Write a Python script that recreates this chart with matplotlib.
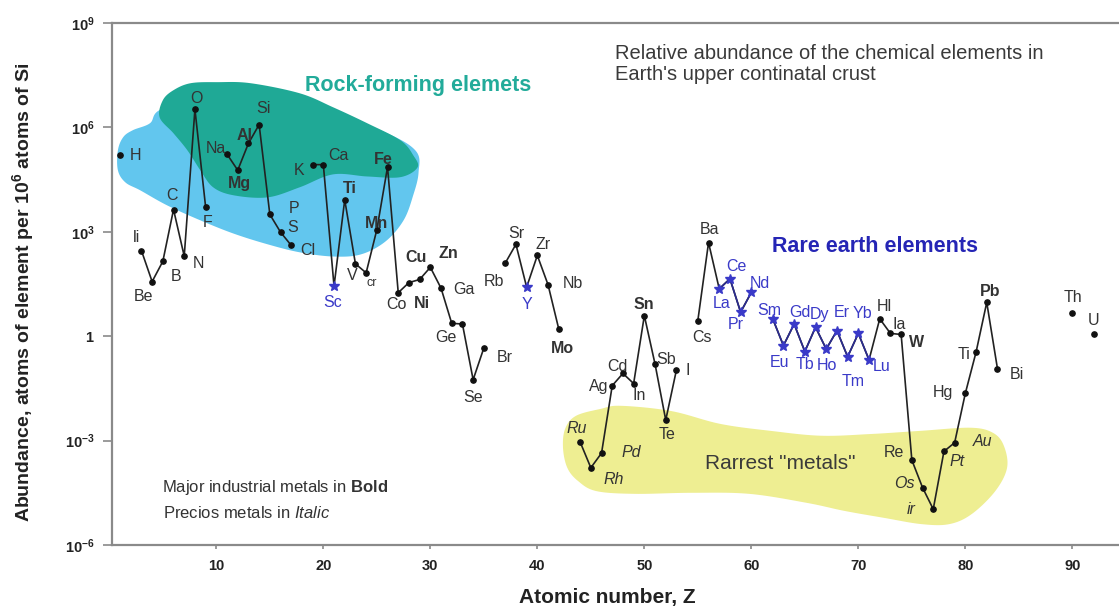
"""Relative abundance of the chemical elements in Earth's upper continental crust.

Log-scale abundance (atoms per 10^6 atoms of Si) against atomic number,
with the rock-forming, rare-earth and rarest-metal groups shaded.
"""
import numpy as np
import matplotlib

matplotlib.use("Agg")
import matplotlib.pyplot as plt
from matplotlib.ticker import FixedLocator, NullLocator

plt.rcParams["font.family"] = ["Liberation Sans", "DejaVu Sans"]
plt.rcParams["mathtext.fontset"] = "custom"
plt.rcParams["mathtext.rm"] = "Liberation Sans"
plt.rcParams["mathtext.bf"] = "Liberation Sans:bold"
plt.rcParams["mathtext.it"] = "Liberation Sans:italic"

# ---------------------------------------------------------------------------
# Data: symbol, Z, log10(atoms per 10^6 atoms of Si)
# ---------------------------------------------------------------------------
symbols = [
    "H", "Li", "Be", "B", "C", "N", "O", "F", "Na", "Mg", "Al", "Si", "P", "S", "Cl",
    "K", "Ca", "Sc", "Ti", "V", "Cr", "Mn", "Fe", "Co", "Ni", "Cu", "Zn", "Ga", "Ge",
    "As", "Se", "Br", "Rb", "Sr", "Y", "Zr", "Nb", "Mo", "Ru", "Rh", "Pd", "Ag", "Cd",
    "In", "Sn", "Sb", "Te", "I", "Cs", "Ba", "La", "Ce", "Pr", "Nd", "Sm", "Eu", "Gd",
    "Tb", "Dy", "Ho", "Er", "Tm", "Yb", "Lu", "Hf", "Ta", "W", "Re", "Os", "Ir", "Pt",
    "Au", "Hg", "Tl", "Pb", "Bi", "Th", "U",
]
atomic_number = [
    1, 3, 4, 5, 6, 7, 8, 9, 11, 12, 13, 14, 15, 16, 17,
    19, 20, 21, 22, 23, 24, 25, 26, 27, 28, 29, 30, 31, 32,
    33, 34, 35, 37, 38, 39, 40, 41, 42, 44, 45, 46, 47, 48,
    49, 50, 51, 52, 53, 55, 56, 57, 58, 59, 60, 62, 63, 64,
    65, 66, 67, 68, 69, 70, 71, 72, 73, 74, 75, 76, 77, 78,
    79, 80, 81, 82, 83, 90, 92,
]
log_abundance = [
    5.20, 2.46, 1.57, 2.15, 3.64, 2.30, 6.52, 3.71, 5.23, 4.77, 5.54, 6.08, 3.50, 2.99, 2.61,
    4.93, 4.93, 1.44, 3.92, 2.08, 1.82, 3.06, 4.86, 1.25, 1.54, 1.63, 1.98, 1.38, 0.37,
    0.35, -1.25, -0.34, 2.10, 2.64, 1.41, 2.32, 1.48, 0.21, -3.04, -3.78, -3.36, -1.42, -1.07,
    -1.36, 0.59, -0.80, -2.41, -0.97, 0.45, 2.69, 1.36, 1.65, 0.69, 1.26, 0.50, -0.27, 0.35,
    -0.44, 0.26, -0.37, 0.16, -0.59, 0.08, -0.68, 0.50, 0.08, 0.05, -3.56, -4.35, -4.97, -3.31,
    -3.06, -1.64, -0.46, 0.97, -0.93, 0.66, 0.07,
]

# Label text as printed on the original (its spellings kept)
label_text = {"Li": "li", "Cr": "cr", "Hf": "Hl", "Ta": "Ia", "Tl": "Ti", "Ir": "ir", "As": ""}
bold_elements = ["Mg", "Al", "Ti", "Mn", "Fe", "Ni", "Cu", "Zn", "Sn", "Mo", "W", "Pb"]
italic_elements = ["Ru", "Rh", "Pd", "Os", "Ir", "Pt", "Au"]
rare_earths = ["Sc", "Y", "La", "Ce", "Pr", "Nd", "Sm", "Eu", "Gd", "Tb", "Dy", "Ho",
               "Er", "Tm", "Yb", "Lu"]
lanthanides = rare_earths[2:]

# Label placement: offset of the label centre from its point, in pixels
label_offsets = {
    "H": (15, 0), "Li": (-5, 13), "Be": (-9, -15), "B": (13, -15), "C": (-2, 14),
    "N": (14, -7), "O": (2, 11), "F": (2, -15), "Na": (-11, 6), "Mg": (2, -13),
    "Al": (-4, 8), "Si": (4, 16), "P": (24, 6), "S": (12, 5), "Cl": (17, -5),
    "K": (-14, -6), "Ca": (15, 9), "Sc": (-1, -16), "Ti": (5, 11), "V": (-3, -12),
    "Cr": (6, -10), "Mn": (0, 6), "Fe": (-4, 8), "Co": (-2, -12), "Ni": (13, -21),
    "Cu": (-4, 22), "Zn": (18, 14), "Ga": (23, -1), "Ge": (-6, -14), "Se": (0, -18),
    "Br": (21, -9), "Rb": (-11, -18), "Sr": (0, 11), "Y": (0, -17), "Zr": (6, 11),
    "Nb": (25, 1), "Mo": (4, -20), "Ru": (-3, 13), "Rh": (23, -12), "Pd": (30, 1),
    "Ag": (-14, -1), "Cd": (-5, 7), "In": (6, -12), "Sn": (-1, 11), "Sb": (11, 5),
    "Te": (1, -14), "I": (11, -1), "Cs": (4, -17), "Ba": (1, 13), "La": (2, -15),
    "Ce": (6, 12), "Pr": (-5, -12), "Nd": (9, 9), "Sm": (-3, 8), "Eu": (-4, -17),
    "Gd": (6, 12), "Tb": (0, -13), "Dy": (4, 13), "Ho": (1, -16), "Er": (5, 18),
    "Tm": (5, -25), "Yb": (4, 20), "Lu": (13, -7), "Hf": (5, 12), "Ta": (9, 9),
    "W": (15, -8), "Re": (-18, 8), "Os": (-18, 4), "Ir": (-22, 0), "Pt": (13, -10),
    "Au": (28, 1), "Hg": (-22, 1), "Tl": (-12, -2), "Pb": (3, 11), "Bi": (19, -6),
    "Th": (1, 16), "U": (0, 13),
}

xtick_values = [10, 20, 30, 40, 50, 60, 70, 80, 90]
ytick_exponents = [-6, -3, 0, 3, 6, 9]
ytick_labels = [r"$\mathbf{10^{-6}}$", r"$\mathbf{10^{-3}}$", r"$\mathbf{1}$",
                r"$\mathbf{10^{3}}$", r"$\mathbf{10^{6}}$", r"$\mathbf{10^{9}}$"]

# Outlines of the shaded groups in (Z, log10 abundance)
rock_outer_z = [4.7, 3.8, 2.2, 1.3, 0.8, 0.8, 1.5, 2.9, 5.4, 8.5, 11.6, 14.8, 17.8,
                20.9, 23.5, 25.8, 27.5, 28.4, 28.9, 28.6, 25.3, 17.8, 8.5]
rock_outer_log = [6.50, 6.12, 5.92, 5.72, 5.34, 4.77, 4.42, 4.19, 3.76, 3.33, 2.95, 2.64,
                  2.41, 2.29, 2.35, 2.72, 3.33, 4.05, 4.71, 5.34, 5.92, 6.78, 6.93]
rock_core_z = [4.7, 5.0, 6.0, 7.6, 10.1, 13.2, 17.8, 20.9, 24.1, 27.2, 28.4, 28.8,
               27.2, 24.1, 20.9, 17.8, 14.8, 11.6, 9.7, 8.5, 7.3, 6.0]
rock_core_log = [6.29, 6.78, 7.07, 7.27, 7.30, 7.27, 6.98, 6.58, 6.12, 5.63, 5.20, 4.85,
                 4.57, 4.59, 4.65, 4.28, 3.99, 4.05, 4.28, 4.77, 5.34, 5.83]
rarest_z = [42.4, 42.6, 43.6, 45.9, 47.8, 52.5, 57.1, 61.8, 66.5, 71.2, 75.8, 80.5,
            82.6, 83.6, 83.9, 82.8, 80.6, 78.5, 75.9, 72.4, 68.7, 65.2, 59.8, 54.4,
            49.1, 45.5, 43.8, 42.8]
rarest_log = [-3.21, -2.66, -2.29, -2.09, -2.00, -2.15, -2.52, -2.72, -2.86, -2.81, -2.72,
              -2.63, -2.78, -3.15, -3.78, -4.45, -5.11, -5.40, -5.40, -5.22, -5.02, -4.79,
              -4.53, -4.50, -4.53, -4.45, -4.16, -3.78]

LABEL_GREY = "#333333"
REE_BLUE = "#3a3ac8"


def _smooth_closed(xs, ys, n=14):
    """Closed Catmull-Rom curve through the outline points."""
    p = np.column_stack([xs, ys]).astype(float)
    m = len(p)
    t = np.linspace(0, 1, n, endpoint=False)[:, None]
    segs = []
    for i in range(m):
        p0, p1, p2, p3 = p[i - 1], p[i], p[(i + 1) % m], p[(i + 2) % m]
        segs.append(0.5 * (2 * p1 + (p2 - p0) * t
                           + (2 * p0 - 5 * p1 + 4 * p2 - p3) * t ** 2
                           + (3 * p1 - p0 - 3 * p2 + p3) * t ** 3))
    out = np.vstack(segs)
    return out[:, 0], out[:, 1]


def _shade(ax, zs, logs, color):
    x, y = _smooth_closed(zs, logs)
    ax.fill(x, 10.0 ** y, color=color, lw=0, zorder=1)


fig = plt.figure(figsize=(11.19, 6.09), dpi=100)
ax = fig.add_axes([112 / 1119, 1 - 545 / 609, 1007 / 1119, 522 / 609])
ax.set_yscale("log")
ax.set_xlim(0.25, 94.36)
ax.set_ylim(1e-6, 1e9)

_shade(ax, rock_outer_z, rock_outer_log, "#62c6ee")
_shade(ax, rock_core_z, rock_core_log, "#1fa996")
_shade(ax, rarest_z, rarest_log, "#eeee92")

# Full Z grid so that missing elements break the line
z = np.array(atomic_number)
vals = 10.0 ** np.array(log_abundance)
z_full = np.arange(1, 93)
v_full = np.full(z_full.shape, np.nan)
v_full[z - 1] = vals
ax.plot(z_full, v_full, color="#222222", lw=1.2, zorder=3)

is_lan = np.isin(z_full, [atomic_number[symbols.index(s)] for s in lanthanides])
ax.plot(z_full, np.where(is_lan, v_full, np.nan), color="#2b2b90", lw=1.2, zorder=3)

is_ree = np.array([s in rare_earths for s in symbols])
ax.plot(z[~is_ree], vals[~is_ree], "o", color="#111111", ms=3.8, zorder=4)
ax.plot(z[is_ree], vals[is_ree], "*", color=REE_BLUE, ms=7, zorder=4)

for sym, zi, vi in zip(symbols, z, vals):
    text = label_text.get(sym, sym)
    if not text:
        continue
    ax.annotate(
        text, (zi, vi), xytext=label_offsets[sym], textcoords="offset pixels",
        ha="center", va="center", zorder=5,
        fontsize=9 if sym == "Cr" else 11.5,
        fontweight="bold" if sym in bold_elements else "normal",
        fontstyle="italic" if sym in italic_elements else "normal",
        color=REE_BLUE if sym in rare_earths else LABEL_GREY,
    )

# Group captions and notes
ax.text(28.9, 10 ** 7.21, "Rock-forming elemets", color="#22ab9a", fontsize=15.5,
        fontweight="bold", ha="center", va="center")
ax.text(71.6, 10 ** 2.58, "Rare earth elements", color="#2525b5", fontsize=15.5,
        fontweight="bold", ha="center", va="center")
ax.text(62.7, 10 ** -3.67, 'Rarrest "metals"', color="#3a3a3a", fontsize=15,
        ha="center", va="center")
ax.text(47.3, 10 ** 7.82, "Relative abundance of the chemical elements in\n"
        "Earth's upper continatal crust", color="#3a3a3a", fontsize=14.5,
        ha="left", va="center", linespacing=1.15)
ax.text(4.9, 10 ** -4.36, r"Major industrial metals in $\mathbf{Bold}$",
        color="#333333", fontsize=12, ha="left", va="center")
ax.text(5.0, 10 ** -5.08, r"Precios metals in $\mathit{Italic}$",
        color="#333333", fontsize=12, ha="left", va="center")

# Axes styling
for side in ("left", "bottom", "top"):
    ax.spines[side].set_color("#8a8a8a")
    ax.spines[side].set_linewidth(1.6)
ax.spines["right"].set_visible(False)

ax.xaxis.set_major_locator(FixedLocator(xtick_values))
ax.set_xticklabels([str(v) for v in xtick_values])
ax.yaxis.set_major_locator(FixedLocator([10.0 ** e for e in ytick_exponents]))
ax.yaxis.set_minor_locator(NullLocator())
ax.set_yticklabels(ytick_labels)
ax.tick_params(axis="x", length=3, width=1.2, color="#8a8a8a", pad=7, labelsize=10.5,
               labelcolor="#222222")
ax.tick_params(axis="y", length=6.5, width=1.2, color="#8a8a8a", pad=6, labelsize=10.5,
               labelcolor="#222222")
for lbl in ax.get_xticklabels():
    lbl.set_fontweight("bold")

fig.text(607 / 1119, 1 - 598 / 609, "Atomic number, Z", fontsize=15, fontweight="bold",
         color="#222222", ha="center", va="center")
fig.text(23 / 1119, 1 - 292 / 609,
         r"Abundance, atoms of element per 10$^{\mathbf{6}}$ atoms of Si",
         fontsize=14, fontweight="bold", color="#222222", rotation=90,
         ha="center", va="center")

fig.savefig("out.png", dpi=100)
